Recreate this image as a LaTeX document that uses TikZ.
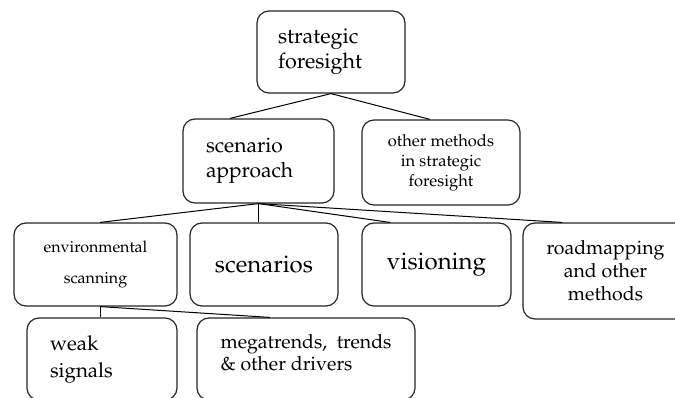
\documentclass[tikz,border=0pt]{standalone}
\usepackage[T1]{fontenc}
\usepackage{mathpazo}
\begin{document}
\begin{tikzpicture}[x=1pt,y=-1pt,
  box/.style={draw=black!85, line width=1.2pt, rounded corners=12pt, inner sep=0pt, text=black},
  link/.style={draw=black, line width=1pt}]
\useasboundingbox (0,0) rectangle (675,398);
\clip (0,0) rectangle (675,398);
\fill[white] (0,0) rectangle (675,398);
% level 0
\node[box, minimum width=148pt, minimum height=82pt, inner xsep=21pt, text width=106pt, align=left,
  font=\fontsize{21.5}{25}\selectfont] (top) at (331,52) {strategic\\foresight};
% level 1
\node[box, minimum width=151pt, minimum height=84pt, inner xsep=23pt, text width=105pt, align=left,
  font=\fontsize{21}{25}\selectfont] (sa) at (258.5,161) {scenario\\approach};
\node[box, minimum width=158pt, minimum height=85pt, align=center,
  font=\fontsize{16.5}{20}\selectfont] (om) at (441,162.5) {other methods\\in strategic\\foresight};
% level 2
\node[box, minimum width=163pt, minimum height=83pt, align=center,
  font=\fontsize{16}{31}\selectfont] (es) at (95.5,264.5) {environmental\\scanning};
\node[box, minimum width=148pt, minimum height=83pt, align=center,
  font=\fontsize{24}{28}\selectfont] (sc) at (264,264.5) {scenarios};
\node[box, minimum width=149pt, minimum height=83pt, align=center,
  font=\fontsize{24}{28}\selectfont] (vi) at (436.5,264.5) {visioning};
\node[box, minimum width=165pt, minimum height=96pt, align=center,
  font=\fontsize{19.5}{23}\selectfont] (rm) at (605.5,271) {roadmapping\\and other\\methods};
% level 3
\node[box, minimum width=150pt, minimum height=82pt, inner xsep=23pt, text width=104pt, align=left,
  font=\fontsize{20.5}{27}\selectfont] (ws) at (102,359) {weak\\signals};
\node[box, minimum width=218pt, minimum height=82pt, align=left, text depth=14pt,
  font=\fontsize{19.5}{22}\selectfont] (mt) at (306,359) {megatrends,\ \ trends\\\& other drivers};
% connectors
\draw[link] (top.south) -- ([xshift=-28.5pt]sa.north);
\draw[link] (top.south) -- ([xshift=-11pt]om.north);
\draw[link] (sa.south) -- ([xshift=4.5pt]es.north);
\draw[link] (sa.south) -- ([xshift=-5.5pt]sc.north);
\draw[link] (sa.south) -- ([xshift=-46.5pt]vi.north);
\draw[link] (sa.south) -- ([xshift=-43.5pt]rm.north);
\draw[link] ([xshift=4.5pt]es.south) -- ([xshift=-2pt]ws.north);
\draw[link] ([xshift=4.5pt]es.south) -- ([xshift=-36pt]mt.north);
\end{tikzpicture}
\end{document}
